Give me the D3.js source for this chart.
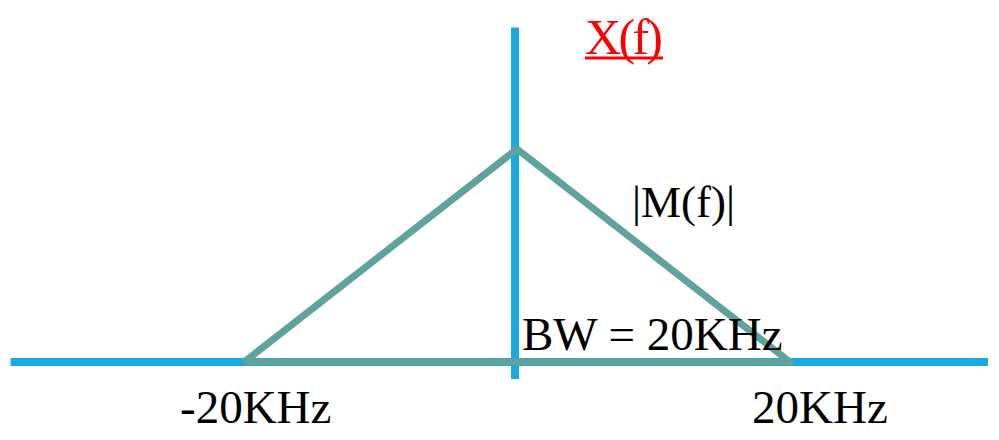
<!DOCTYPE html>
<html>
<head>
<meta charset="utf-8">
<script src="https://cdn.jsdelivr.net/npm/d3@7"></script>
<style>
  body { margin: 0; background: #fff; }
  text { font-family: "Liberation Serif", serif; }
</style>
</head>
<body>
<div class="chart"></div>
<script>
// spectrum of the message, frequency in kHz, magnitude normalised
const freqs = [-20, 0, 20];
const magnitude = [0, 1, 0];
const axisRange = [-37.1, 34.5];   // frequency axis extent
const magRange = [-0.08, 1.57];    // vertical axis extent
const tickLabels = ["-20KHz", "20KHz"];
const tickFreqs = [-20, 20];

const width = 999, height = 440;

const svg = d3.select(".chart")
  .append("svg")
  .attr("width", width)
  .attr("height", height);

const x = d3.scaleLinear().domain([-20, 20]).range([244, 790]);
const y = d3.scaleLinear().domain([0, 1]).range([362, 149]);

// axes
svg.append("line")
  .attr("x1", x(axisRange[0])).attr("x2", x(axisRange[1]))
  .attr("y1", y(0)).attr("y2", y(0))
  .attr("stroke", "#1aa9e1").attr("stroke-width", 8);

svg.append("line")
  .attr("x1", x(0) - 2).attr("x2", x(0) - 2)
  .attr("y1", y(magRange[0])).attr("y2", y(magRange[1]))
  .attr("stroke", "#1aa9e1").attr("stroke-width", 8);

// triangle spectrum
const pts = freqs.map((f, i) => [x(f), y(magnitude[i])]);
pts.push(pts[0]);
svg.append("path")
  .attr("d", d3.line()(pts))
  .attr("fill", "none")
  .attr("stroke", "#5fa39c")
  .attr("stroke-width", 7)
  .attr("stroke-linejoin", "round");

// tick labels
const labelX = [180, 752];
svg.selectAll(".tick")
  .data(tickLabels)
  .join("text")
  .attr("x", (d, i) => labelX[i])
  .attr("y", 423)
  .attr("font-size", 47)
  .attr("fill", "#000")
  .text(d => d);

svg.append("text")
  .attr("x", 522).attr("y", 350)
  .attr("font-size", 47)
  .attr("fill", "#000")
  .text("BW = 20KHz");

svg.append("text")
  .attr("x", 632).attr("y", 217)
  .attr("font-size", 45)
  .attr("fill", "#000")
  .text("|M(f)|");

// title, underlined
const title = svg.append("text")
  .attr("x", 585).attr("y", 54)
  .attr("font-size", 50)
  .attr("fill", "#ff0000")
  .attr("textLength", 78)
  .text("X(f)");

svg.append("line")
  .attr("x1", 585).attr("x2", 663)
  .attr("y1", 58).attr("y2", 58)
  .attr("stroke", "#ff0000").attr("stroke-width", 3);
</script>
</body>
</html>
